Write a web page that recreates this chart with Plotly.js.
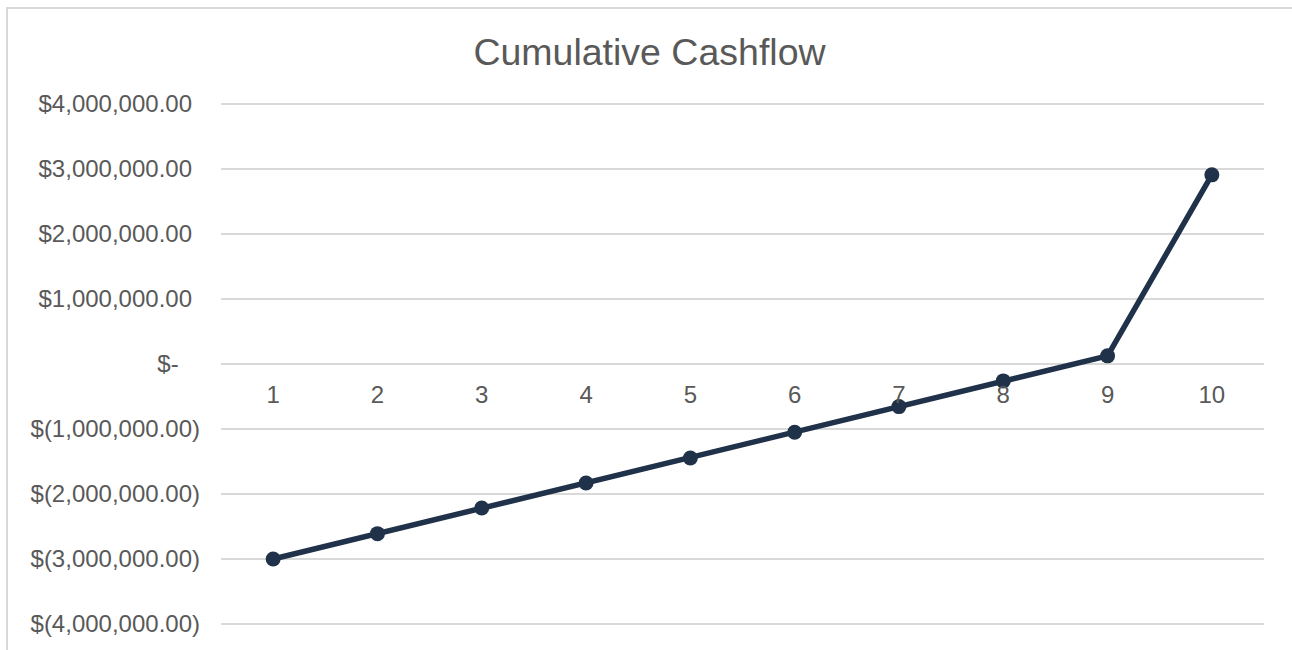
<!DOCTYPE html>
<html>
<head>
<meta charset="utf-8">
<script src="https://cdn.plot.ly/plotly-3.0.1.min.js"></script>
<style>
  html, body { margin: 0; padding: 0; overflow: hidden; background: #ffffff; }
  #wrap { position: relative; width: 1292px; height: 650px; overflow: hidden; }
  #chart { position: absolute; left: 0; top: 0; width: 1292px; height: 650px; }
  #frame { position: absolute; left: 6px; top: 7px; width: 1400px; height: 800px;
           border: 2px solid #d9d9d9; box-sizing: border-box; pointer-events: none; }
</style>
</head>
<body>
<div id="wrap">
  <div id="chart"></div>
  <div id="frame"></div>
</div>
<script>
// ---- data ----
const years = ['1', '2', '3', '4', '5', '6', '7', '8', '9', '10'];
const cumulativeCashflow = [-3000000, -2610000, -2215000, -1830000, -1445000, -1050000, -655000, -260000, 125000, 2910000];
const yTickValues = [-4000000, -3000000, -2000000, -1000000, 0, 1000000, 2000000, 3000000, 4000000];
const yTickLabels = ['$(4,000,000.00)', '$(3,000,000.00)', '$(2,000,000.00)', '$(1,000,000.00)', '$-', '$1,000,000.00', '$2,000,000.00', '$3,000,000.00', '$4,000,000.00'];
const chartTitle = 'Cumulative Cashflow';

// accounting-style alignment padding (invisible characters)
const pad = s => {
  const hide = t => '<span style="color:rgba(0,0,0,0)">' + t + '</span>';
  if (s === '$-') return s + hide('0)');
  if (s.indexOf('(') === -1) return s + hide(')');
  return s;
};

const FONT = 'Liberation Sans, Arial, sans-serif';
const TEXT = '#595959';
const GRID = '#d9d9d9';

const trace = {
  type: 'scatter',
  mode: 'lines+markers',
  x: years,
  y: cumulativeCashflow,
  line: { color: '#203249', width: 5.5 },
  marker: { color: '#203249', size: 15 },
  hoverinfo: 'skip',
  cliponaxis: false
};

const layout = {
  width: 1292,
  height: 650,
  paper_bgcolor: 'rgba(0,0,0,0)',
  plot_bgcolor: 'rgba(0,0,0,0)',
  margin: { l: 221, r: 28, t: 100, b: 22, pad: 0 },
  showlegend: false,
  title: {
    text: chartTitle,
    font: { family: FONT, size: 37.5, color: TEXT },
    x: 649.5 / 1292, xref: 'container', xanchor: 'center',
    y: 1 - 52 / 650, yref: 'container', yanchor: 'middle'
  },
  xaxis: {
    type: 'category',
    range: [-0.5, 9.5],
    anchor: 'free',
    position: 0.5,
    side: 'bottom',
    showgrid: false,
    zeroline: false,
    showline: false,
    ticks: '',
    ticklabelstandoff: 14,
    tickfont: { family: FONT, size: 24, color: TEXT },
    fixedrange: true
  },
  yaxis: {
    range: [-4061500, 4061500],
    tickmode: 'array',
    tickvals: yTickValues,
    ticktext: yTickLabels.map(pad),
    showgrid: true,
    gridcolor: GRID,
    gridwidth: 1.5,
    zeroline: true,
    zerolinecolor: GRID,
    zerolinewidth: 1.5,
    showline: false,
    ticks: '',
    ticklabelstandoff: 20,
    tickfont: { family: FONT, size: 24, color: TEXT },
    fixedrange: true
  }
};

Plotly.newPlot('chart', [trace], layout, { staticPlot: true, displayModeBar: false });
</script>
</body>
</html>
